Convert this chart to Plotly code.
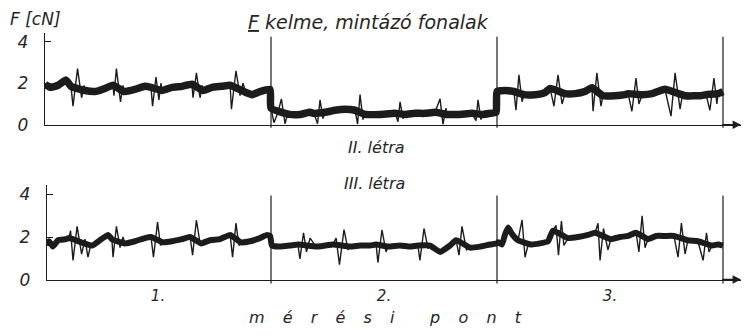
import plotly.graph_objects as go

# Force recordings along the three measurement points (x: measurement-point units, y: F in cN)

# --- upper recording ---------------------------------------------------------
top_band_x = [0.000, 0.022, 0.058, 0.093, 0.115, 0.177, 0.221, 0.265, 0.301, 0.350, 0.398, 0.442,
              0.469, 0.518, 0.562, 0.606, 0.650, 0.699, 0.739, 0.783, 0.819, 0.889, 0.916, 0.951,
              0.996,
              1.000, 1.084, 1.128, 1.173, 1.190, 1.239, 1.283, 1.327, 1.372, 1.416, 1.482, 1.549,
              1.593, 1.637, 1.681, 1.726, 1.779, 1.836, 1.889, 1.938, 1.969, 1.996,
              2.000, 2.035, 2.075, 2.119, 2.168, 2.212, 2.235, 2.301, 2.345, 2.389, 2.420, 2.469,
              2.522, 2.566, 2.580, 2.642, 2.686, 2.743, 2.832, 2.898, 2.925, 2.978, 3.000]
top_band_y = [1.95, 1.80, 1.90, 2.15, 1.85, 1.65, 1.60, 1.75, 1.90, 1.60, 1.70, 1.85,
              1.80, 1.65, 1.80, 1.85, 1.95, 1.65, 1.80, 1.85, 1.90, 1.55, 1.45, 1.60,
              1.70,
              0.80, 0.50, 0.50, 0.60, 0.55, 0.60, 0.70, 0.75, 0.70, 0.50, 0.50, 0.55,
              0.50, 0.55, 0.55, 0.60, 0.50, 0.50, 0.55, 0.50, 0.55, 0.60,
              1.60, 1.65, 1.60, 1.45, 1.45, 1.55, 1.75, 1.50, 1.50, 1.60, 1.78, 1.40,
              1.40, 1.45, 1.50, 1.45, 1.50, 1.71, 1.40, 1.40, 1.45, 1.50, 1.60]

top_spike_x = [0.124, 0.144, 0.162, 0.173, 0.305, 0.316, 0.334, 0.345, 0.476, 0.491, 0.504, 0.513,
               0.655, 0.670, 0.686, 0.695, 0.825, 0.845, 0.863, 0.876,
               1.013, 1.031, 1.046, 1.062, 1.075, 1.206, 1.217, 1.230, 1.383, 1.394, 1.407,
               1.562, 1.571, 1.584, 1.748, 1.761, 1.774, 1.907, 1.916, 1.929,
               2.084, 2.097, 2.111, 2.252, 2.270, 2.288, 2.425, 2.442, 2.460, 2.597, 2.615, 2.628,
               2.770, 2.788, 2.810, 2.823, 2.942, 2.960, 2.973]
top_spike_y = [0.90, 2.70, 1.30, 1.90, 1.40, 2.70, 1.10, 1.90, 0.90, 2.30, 1.20, 2.00,
               1.30, 2.50, 1.30, 1.90, 0.75, 2.60, 1.40, 2.00,
               0.10, 0.60, 1.25, 0.05, 0.60, 0.05, 1.20, 0.30, 0.03, 1.45, 0.25,
               0.15, 1.10, 0.30, 1.25, 0.02, 0.80, 0.20, 1.20, 0.25,
               0.70, 2.40, 1.10, 0.90, 2.40, 1.00, 0.65, 2.50, 0.90, 0.65, 2.25, 1.00,
               0.42, 2.50, 0.75, 1.60, 0.70, 2.25, 1.00]

# --- lower recording ---------------------------------------------------------
bot_band_x = [0.009, 0.018, 0.035, 0.058, 0.093, 0.106, 0.208, 0.243, 0.279, 0.296, 0.354, 0.398,
              0.442, 0.469, 0.522, 0.562, 0.606, 0.642, 0.690, 0.730, 0.774, 0.819, 0.867, 0.907,
              0.951, 0.982, 0.996,
              1.004, 1.040, 1.084, 1.119, 1.199, 1.239, 1.274, 1.350, 1.394, 1.438, 1.465, 1.518,
              1.571, 1.615, 1.650, 1.704, 1.748, 1.792, 1.819, 1.881, 1.925, 1.969, 2.000,
              2.005, 2.022, 2.035, 2.049, 2.066, 2.093, 2.150, 2.190, 2.226, 2.248, 2.314, 2.358,
              2.403, 2.434, 2.504, 2.544, 2.580, 2.615, 2.668, 2.704, 2.743, 2.783, 2.845, 2.889,
              2.951, 2.978, 3.000]
bot_band_y = [1.60, 1.80, 1.55, 1.85, 1.90, 1.95, 1.60, 1.85, 2.10, 1.90, 1.70, 1.80,
              1.95, 2.00, 1.75, 1.80, 1.90, 2.00, 1.70, 1.85, 1.90, 2.10, 1.75, 1.80,
              1.95, 2.10, 2.05,
              1.60, 1.55, 1.60, 1.65, 1.55, 1.60, 1.65, 1.55, 1.60, 1.60, 1.65, 1.55,
              1.60, 1.55, 1.60, 1.60, 1.30, 1.60, 1.85, 1.50, 1.55, 1.65, 1.70,
              1.75, 1.65, 2.10, 2.45, 2.15, 1.85, 1.65, 1.70, 1.80, 2.30, 1.95, 2.00,
              2.10, 2.20, 1.90, 2.00, 2.05, 2.20, 1.90, 2.05, 2.05, 2.05, 1.85, 1.80,
              1.60, 1.65, 1.60]

bot_spike_x = [0.113, 0.124, 0.142, 0.162, 0.177, 0.190, 0.204, 0.301, 0.316, 0.332, 0.345,
               0.480, 0.498, 0.511, 0.653, 0.670, 0.686, 0.830, 0.845, 0.858,
               1.128, 1.144, 1.157, 1.173, 1.288, 1.303, 1.323, 1.341, 1.473, 1.491, 1.509,
               1.659, 1.677, 1.695, 1.832, 1.845, 1.865,
               2.111, 2.124, 2.137, 2.261, 2.272, 2.285, 2.296, 2.447, 2.456, 2.471, 2.491,
               2.628, 2.642, 2.655, 2.801, 2.816, 2.832, 2.912, 2.927, 2.938]
bot_spike_y = [2.30, 0.90, 2.50, 1.20, 1.90, 1.05, 1.70, 1.05, 2.50, 1.50, 2.00,
               1.05, 2.70, 1.60, 1.15, 2.80, 1.70, 1.05, 2.65, 1.60,
               0.97, 2.20, 1.30, 1.95, 1.95, 0.70, 2.35, 1.40, 0.80, 2.33, 1.30,
               0.90, 2.40, 1.45, 1.15, 2.50, 1.40,
               2.80, 1.05, 1.60, 2.55, 1.15, 2.75, 1.60, 2.65, 0.90, 2.40, 1.40,
               1.30, 3.00, 1.50, 1.05, 2.65, 1.20, 0.90, 2.20, 1.30]

point_edges = [1, 2, 3]
point_centers = [0.5, 1.5, 2.5]
point_labels = ["1.", "2.", "3."]
force_ticks = [0, 2, 4]

INK = "#1c1c1c"
TEXT = "#262626"
FONT = "DejaVu Sans"

W, H = 747, 336


def merged(bx, by, sx, sy):
    pts = sorted(zip(bx + sx, by + sy), key=lambda p: p[0])
    return [p[0] for p in pts], [p[1] for p in pts]


fig = go.Figure()

for (bx, by, sx, sy, xa, ya, bw) in [
    (top_band_x, top_band_y, top_spike_x, top_spike_y, "x", "y", 7.5),
    (bot_band_x, bot_band_y, bot_spike_x, bot_spike_y, "x2", "y2", 6),
]:
    fig.add_trace(go.Scatter(x=bx, y=by, mode="lines", xaxis=xa, yaxis=ya,
                             line=dict(color=INK, width=bw, shape="spline", smoothing=0.4),
                             hoverinfo="skip"))
    mx, my = merged(bx, by, sx, sy)
    fig.add_trace(go.Scatter(x=mx, y=my, mode="lines", xaxis=xa, yaxis=ya,
                             line=dict(color=INK, width=1.4), hoverinfo="skip"))

x_end = (741 - 45) / 226
tick_font = dict(family=FONT, size=17, color=TEXT)


def it(s):
    return "<i>" + s + "</i>"


common_x = dict(showgrid=False, zeroline=False, showline=True, linecolor=INK, linewidth=1.4,
                ticks="", fixedrange=True)
common_y = dict(showgrid=False, zeroline=False, showline=True, linecolor=INK, linewidth=1.4,
                tickvals=force_ticks, ticktext=[it(str(v)) for v in force_ticks],
                ticks="inside", ticklen=6, tickwidth=1.2, tickcolor=INK,
                tickfont=tick_font, ticklabelstandoff=12, fixedrange=True)

fig.update_layout(
    width=W, height=H,
    margin=dict(l=0, r=0, t=0, b=0),
    paper_bgcolor="white", plot_bgcolor="white",
    showlegend=False,
    xaxis=dict(domain=[45 / W, 741 / W], range=[0, x_end], anchor="y",
               showticklabels=False, **common_x),
    yaxis=dict(domain=[1 - 128 / H, 1 - 33 / H], range=[0, 95 / 21.5], anchor="x", **common_y),
    xaxis2=dict(domain=[47 / W, 741 / W], range=[2 / 226, x_end], anchor="y2",
                tickvals=point_centers, ticktext=[it(s) for s in point_labels],
                tickfont=dict(family=FONT, size=15, color=TEXT),
                ticklabelstandoff=2, **common_x),
    yaxis2=dict(domain=[1 - 288 / H, 1 - 190 / H], range=[0, 98 / 22], anchor="x2", **common_y),
)

# measurement-point dividers
shapes = []
for e in point_edges:
    shapes.append(dict(type="line", xref="x", yref="paper", x0=e, x1=e,
                       y0=1 - 131 / H, y1=1 - 37 / H, line=dict(color=INK, width=1.2)))
    shapes.append(dict(type="line", xref="x2", yref="paper", x0=e, x1=e,
                       y0=1 - 292 / H, y1=1 - 201 / H, line=dict(color=INK, width=1.2)))
fig.update_layout(shapes=shapes)

# axis arrows
for xr, yr in [("x", "y"), ("x2", "y2")]:
    fig.add_annotation(x=x_end, y=0, ax=x_end - 0.09, ay=0, xref=xr, yref=yr,
                       axref=xr, ayref=yr, text="", showarrow=True,
                       arrowhead=2, arrowsize=1.2, arrowwidth=1.4, arrowcolor=INK)


def label(text, px, py, size=17, anchor="center"):
    fig.add_annotation(text=it(text), x=px / W, y=1 - py / H, xref="paper", yref="paper",
                       xanchor=anchor, yanchor="middle", showarrow=False,
                       font=dict(family=FONT, size=size, color=TEXT))


label("F [cN]", 8, 19, size=17, anchor="left")
label('<span style="text-decoration:underline">F</span> kelme, mintázó fonalak', 368, 22, size=19)
label("II. létra", 377, 151, size=16)
label("III. létra", 374, 189, size=16)
nb = "\u00a0"
gap = "\u2002" + nb * 2
label(gap.join("mérési") + nb * 7 + gap.join("pont"), 385, 327, size=16)

fig.write_html("out.html")
